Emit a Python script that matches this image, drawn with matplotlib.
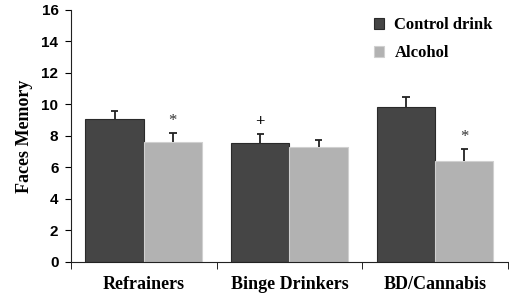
import matplotlib.pyplot as plt
import numpy as np

groups = ['Refrainers', 'Binge Drinkers', 'BD/Cannabis']
control = [9.1, 7.55, 9.85]
control_err = [0.5, 0.6, 0.65]
alcohol = [7.6, 7.3, 6.4]
alcohol_err = [0.6, 0.45, 0.75]
marks_control = ['', '+', '']
marks_alcohol = ['*', '', '*']

serif = 'Liberation Serif'
sans = 'Liberation Sans'

fig = plt.figure(figsize=(5.1, 2.94), dpi=100)
ax = fig.add_axes([0.139, 0.109, 0.857, 0.857])

x = np.arange(len(groups))
w = 0.4
ax.bar(x - w / 2, control, w, color='#454545', edgecolor='#2a2a2a', linewidth=0.8,
       label='Control drink', zorder=2)
ax.bar(x + w / 2, alcohol, w, color='#b2b2b2', edgecolor='#d0d0d0', linewidth=0.8,
       label='Alcohol', zorder=2)

# upper-only error bars
cap = 0.025
for xs, vals, errs in [(x - w / 2, control, control_err), (x + w / 2, alcohol, alcohol_err)]:
    tops = np.array(vals) + np.array(errs)
    ax.vlines(xs, vals, tops, color='#222222', linewidth=1.3, zorder=3)
    ax.hlines(tops, xs - cap, xs + cap, color='#222222', linewidth=1.3, zorder=3)

for i in range(3):
    if marks_control[i]:
        ax.text(x[i] - w / 2, control[i] + control_err[i] + 0.25, marks_control[i],
                ha='center', va='bottom', fontsize=12, fontweight='bold', family=serif)
    if marks_alcohol[i]:
        ax.text(x[i] + w / 2, alcohol[i] + alcohol_err[i] + 0.25, marks_alcohol[i],
                ha='center', va='bottom', fontsize=12, family=serif, color='#333333')

ax.set_xlim(-0.5, 2.5)
ax.set_ylim(0, 16)
ax.set_yticks(range(0, 17, 2))
ax.set_xticks(x)
ax.set_xticklabels(groups, fontsize=13, fontweight='bold', family=serif)
ax.set_xticks([-0.5, 0.5, 1.5, 2.5], minor=True)
ax.tick_params(axis='x', which='major', length=0, pad=10)
ax.tick_params(axis='x', which='minor', length=5, direction='out')
ax.tick_params(axis='y', length=4, direction='out', labelsize=11, pad=5)
for lab in ax.get_yticklabels():
    lab.set_fontweight('bold')
    lab.set_family(sans)
ax.set_ylabel('Faces Memory', fontsize=13, fontweight='bold', family=serif, labelpad=6)

for s in ['top', 'right']:
    ax.spines[s].set_visible(False)
ax.spines['left'].set_color('#222222')
ax.spines['bottom'].set_color('#222222')

ax.legend(loc='upper right', bbox_to_anchor=(1.0, 1.03), frameon=False,
          prop={'family': serif, 'weight': 'bold', 'size': 12},
          handlelength=0.6, handleheight=0.6, handletextpad=0.6, labelspacing=0.7)

fig.savefig('out.png', dpi=100)
